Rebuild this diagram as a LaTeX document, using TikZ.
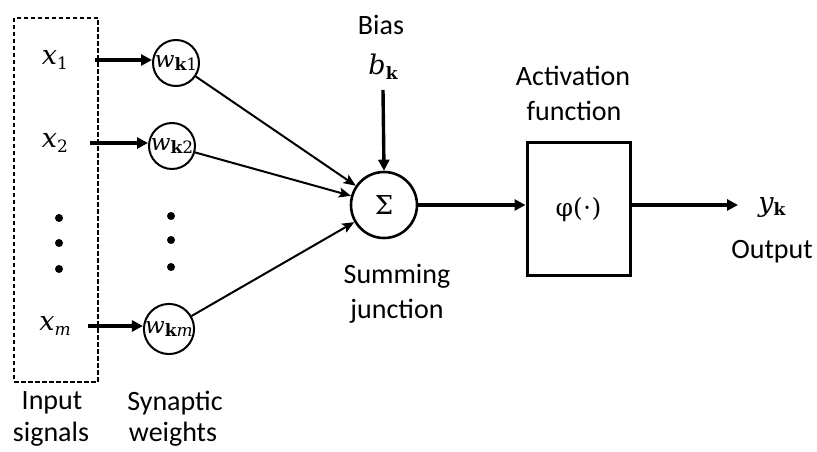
\documentclass[tikz,border=0pt]{standalone}
\usepackage{fontspec}
\setmainfont{Carlito}
\newfontfamily\ser{DejaVu Serif}
\usetikzlibrary{arrows.meta}
\newcommand{\vsub}[2]{{\ser\itshape #1}\raisebox{-0.35ex}{\ser\fontsize{17}{20}\selectfont #2}}
\newcommand{\kb}{{\bfseries k}}
\begin{document}
\begin{tikzpicture}[x=1pt,y=1pt,
  lbl/.style={font=\fontsize{28}{30}\selectfont, inner sep=0pt},
  mth/.style={font=\fontsize{27}{30}\selectfont, inner sep=0pt},
  wnode/.style={draw, circle, line width=2pt, minimum size=46pt, inner sep=0pt, font=\fontsize{23}{28}\selectfont},
  thickarr/.style={line width=3.4pt, -{Triangle[length=11pt,width=11pt]}},
  thinarr/.style={line width=2pt, -{Stealth[length=12pt,width=10pt,inset=2.5pt]}},
  dotmark/.style={circle, fill, inner sep=0pt, minimum size=8pt}]
\useasboundingbox (0,0) rectangle (817,452);
% input box
\node[draw, dash pattern=on 4.5pt off 2.5pt, line width=1.2pt, minimum width=84pt, minimum height=364pt, inner sep=0pt] (inbox) at (56,252) {};
\node[mth] (x1) at (55,392) {\vsub{x}{1}};
\node[mth] (x2) at (55,309) {\vsub{x}{2}};
\node[mth] (xm) at (55,126) {\vsub{x}{\itshape m}};
\node[dotmark] (d1) at (59,234) {};
\node[dotmark] (d2) at (59,209) {};
\node[dotmark] (d3) at (59,183) {};
% weights
\node[wnode] (w1) at (176,389) {\vsub{w}{\kb1}};
\node[wnode] (w2) at (172,306) {\vsub{w}{\kb2}};
\node[wnode] (wm) at (169,123) {\vsub{w}{\kb\itshape m}};
\node[dotmark] (e1) at (171,236) {};
\node[dotmark] (e2) at (171,212) {};
\node[dotmark] (e3) at (171,185) {};
\coordinate (a1) at (95,392);
\coordinate (a2) at (90,309);
\coordinate (am) at (88,126);
\draw[thickarr] (a1) -- (a1 -| w1.west);
\draw[thickarr] (a2) -- (a2 -| w2.west);
\draw[thickarr] (am) -- (am -| wm.west);
% summing junction
\node[draw, circle, line width=2.6pt, minimum size=66pt, inner sep=0pt, font=\fontsize{26}{30}\selectfont\ser] (sum) at (384,247) {Σ};
\draw[thinarr] (w1) -- (sum);
\draw[thinarr] (w2) -- (sum);
\draw[thinarr] (wm) -- (sum);
\node[lbl] (bias) at (381,427) {Bias};
\node[mth] (bk) at (383,385) {\vsub{b}{\kb}};
\coordinate (bs) at (383,362);
\draw[thickarr] (bs) -- (sum.north);
\node[lbl] (summing) at (397,176) {Summing};
\node[lbl] (junction) at (397,141) {junction};
% activation
\node[draw, line width=3pt, minimum width=103pt, minimum height=133pt, inner sep=0pt, font=\fontsize{25}{30}\selectfont\ser] (act) at (578.5,242.5) {φ(⋅)};
\node[lbl] (activation) at (573,376) {Activation};
\node[lbl] (function) at (574,341) {function};
\draw[thickarr] (sum.east) -- (sum.east -| act.west);
\coordinate (out) at (738,247);
\draw[thickarr] (out -| act.east) -- (out);
\node[mth] (yk) at (772,245) {\vsub{y}{\kb}};
\node[lbl] (output) at (772,200) {Output};
% bottom labels
\node[lbl] (input) at (52,49) {Input};
\node[lbl] (signals) at (51,18) {signals};
\node[lbl] (synaptic) at (175,49) {Synaptic};
\node[lbl] (weights) at (173,18) {weights};
\end{tikzpicture}
\end{document}
